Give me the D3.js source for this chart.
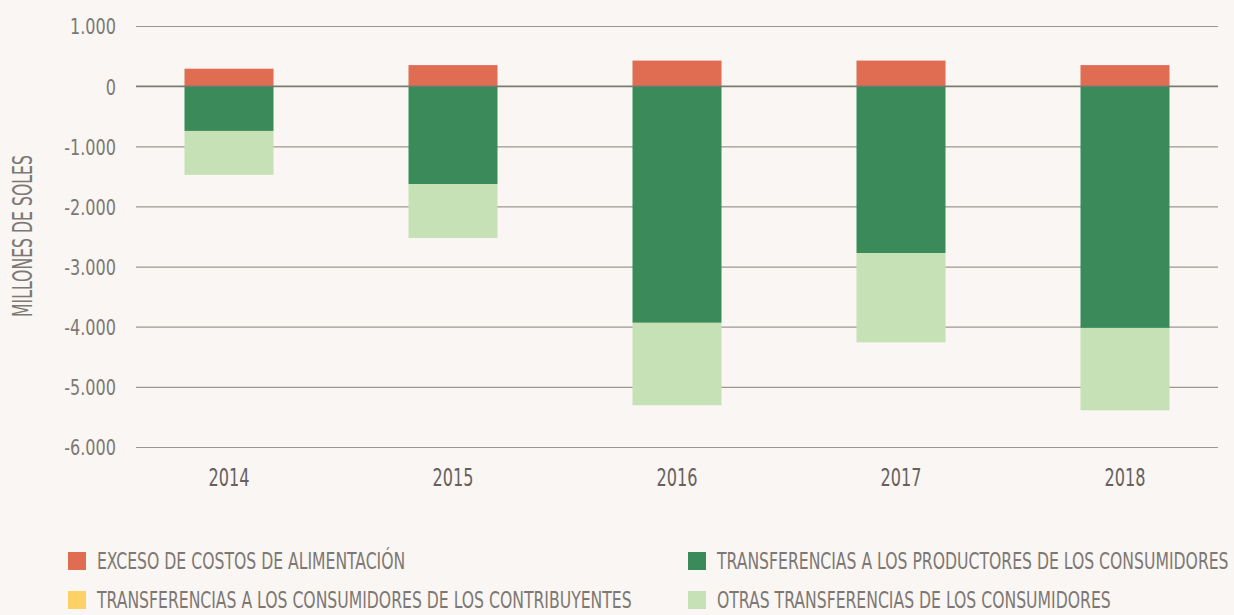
<!DOCTYPE html>
<html><head><meta charset="utf-8">
<script src="https://cdn.jsdelivr.net/npm/d3@7"></script>
<style>
html,body{margin:0;padding:0;background:#faf6f3;}
svg{display:block;}
text{font-family:"DejaVu Sans Condensed","DejaVu Sans",sans-serif;font-stretch:condensed;}
</style></head>
<body>
<svg id="c" width="1234" height="615"></svg>
<script>
const years = ["2014","2015","2016","2017","2018"];
const excesoCostos = [290, 350, 425, 425, 350];
const transfProductores = [-745, -1630, -3935, -2775, -4020];
const transfContribuyentes = [0, 0, 0, 0, 0];
const otrasTransf = [-730, -895, -1370, -1485, -1370];
const yTicks = [1000, 0, -1000, -2000, -3000, -4000, -5000, -6000];
const seriesNames = ["EXCESO DE COSTOS DE ALIMENTACIÓN","TRANSFERENCIAS A LOS PRODUCTORES DE LOS CONSUMIDORES","TRANSFERENCIAS A LOS CONSUMIDORES DE LOS CONTRIBUYENTES","OTRAS TRANSFERENCIAS DE LOS CONSUMIDORES"];
const seriesColors = ["#e06c52","#3a8a5a","#fdd166","#c5e1b5"];

// horizontally condense text around its anchor x
function condense(sel, factor){
  sel.each(function(){
    const s = d3.select(this);
    const x0 = +s.attr("x") || 0;
    const prev = s.attr("transform") || "";
    s.attr("transform", `${prev} translate(${x0},0) scale(${factor},1) translate(${-x0},0)`);
  });
}
function factorFor(sel, target){ return target / sel.node().getComputedTextLength(); }

const keys = ["a","b","c","d"];
const table = years.map((y,i)=>({year:y,a:excesoCostos[i],b:transfProductores[i],c:transfContribuyentes[i],d:otrasTransf[i]}));
const stacked = d3.stack().keys(keys).offset(d3.stackOffsetDiverging)(table);

const svg = d3.select("#c");
const x = d3.scaleBand().domain(years).range([136,1218]).paddingInner(0.6027).paddingOuter(0.2165);
const y = d3.scaleLinear().domain([-6000,1000]).range([447,26]);
const fmt = v => d3.format(",")(v).replace(/,/g,".").replace(/\u2212/g,"-");

// gridlines
const gy = svg.append("g").attr("transform","translate(136,0)")
  .call(d3.axisLeft(y).tickValues(yTicks).tickSize(-1082).tickFormat(fmt).tickPadding(20));
gy.select(".domain").remove();
gy.selectAll(".tick line").attr("stroke", d=> d===0 ? "#7d7874" : "#9c9793").attr("stroke-width",1.2);
const yt = gy.selectAll(".tick text").attr("fill","#7d7874").style("font-size","22px").attr("dy","0.36em");
condense(yt, factorFor(yt.filter(d=>d===1000), 46));

// bars
svg.append("g").selectAll("g").data(stacked).join("g")
  .attr("fill",(d,i)=>seriesColors[i])
  .selectAll("rect").data(d=>d).join("rect")
  .attr("x",d=>x(d.data.year)).attr("width",x.bandwidth())
  .attr("y",d=>y(Math.max(d[0],d[1])))
  .attr("height",d=>Math.abs(y(d[0])-y(d[1])));

// zero line on top
svg.append("line").attr("x1",136).attr("x2",1218).attr("y1",y(0)).attr("y2",y(0))
  .attr("stroke","#7d7874").attr("stroke-width",1.4);

// x axis labels
const gx = svg.append("g").attr("transform","translate(0,447)")
  .call(d3.axisBottom(x).tickSize(0).tickPadding(0));
gx.select(".domain").remove();
const xt = gx.selectAll(".tick text").attr("fill","#66615f").style("font-size","25px")
  .attr("y",30).attr("dy","0.36em");
condense(xt, factorFor(xt.filter(d=>d==="2014"), 41));

// y label
const yl = svg.append("text").attr("transform","translate(32,236) rotate(-90)")
  .attr("text-anchor","middle").attr("fill","#7d7874").style("font-size","26px")
  .text("MILLONES DE SOLES");
condense(yl, factorFor(yl, 162));

// legend
const legPos = [[68,561],[688,561],[68,600],[688,600]];
const leg = svg.append("g").selectAll("g").data(seriesNames).join("g")
  .attr("transform",(d,i)=>`translate(${legPos[i][0]},${legPos[i][1]})`);
leg.append("rect").attr("x",0).attr("y",-9).attr("width",18).attr("height",18)
  .attr("fill",(d,i)=>seriesColors[i]);
const lt = leg.append("text").attr("x",29).attr("y",0).attr("dy","0.36em")
  .attr("fill","#7d7874").style("font-size","23px").text(d=>d);
condense(lt, factorFor(lt.filter((d,i)=>i===1), 512));
</script>
</body></html>
